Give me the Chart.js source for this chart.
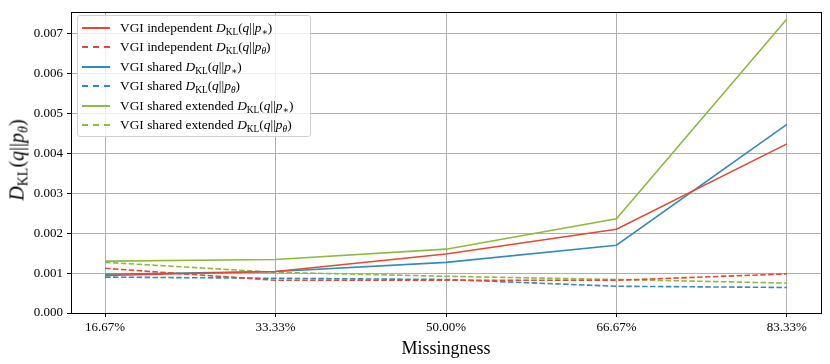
<!DOCTYPE html>
<html>
<head>
<meta charset="utf-8">
<script src="https://cdn.jsdelivr.net/npm/chart.js@4.4.1/dist/chart.umd.min.js"></script>
<style>
  html,body{margin:0;padding:0;background:#fff;}
  #wrap{position:relative;width:830px;height:364px;font-family:"Liberation Serif","DejaVu Serif",serif;}
  #c{position:absolute;left:0;top:0;}
  #legend{position:absolute;left:77px;top:15px;width:234px;height:122px;box-sizing:border-box;
    border:1px solid #d0d0d0;border-radius:3px;background:rgba(255,255,255,0.8);padding:2px 0 0 4px;}
  .row{height:19.5px;display:flex;align-items:center;font-size:13.4px;color:#000;white-space:nowrap;}
  .sw{width:28px;height:0;margin-right:10px;}
  #ytitle{position:absolute;left:17px;top:160px;transform:translate(-50%,-50%) rotate(-90deg);
    font-size:20px;white-space:nowrap;color:#000;}
  i{font-style:italic;}
  sub{font-size:70%;vertical-align:-0.3em;line-height:0;}
</style>
</head>
<body>
<div id="wrap">
  <canvas id="c" width="830" height="364"></canvas>
  <div id="legend"></div>
  <div id="ytitle"><i>D</i><sub>KL</sub>(<i>q</i>||<i>p</i><sub><i>θ</i></sub>)</div>
</div>
<script>
const categories = ["16.67%", "33.33%", "50.00%", "66.67%", "83.33%"];
const yTicks = [0, 0.001, 0.002, 0.003, 0.004, 0.005, 0.006, 0.007];

const indepStar  = [0.00094, 0.00104, 0.00148, 0.00210, 0.00424];
const indepTheta = [0.00112, 0.00082, 0.00082, 0.00082, 0.00098];
const sharedStar  = [0.00097, 0.00104, 0.00127, 0.00170, 0.00473];
const sharedTheta = [0.00090, 0.00087, 0.00084, 0.00067, 0.00064];
const extStar  = [0.00130, 0.00134, 0.00160, 0.00236, 0.00737];
const extTheta = [0.00127, 0.00102, 0.00092, 0.00084, 0.00075];

const seriesNames = ["VGI independent", "VGI independent", "VGI shared", "VGI shared", "VGI shared extended", "VGI shared extended"];
const seriesSub = ["∗", "θ", "∗", "θ", "∗", "θ"];
const seriesData = [indepStar, indepTheta, sharedStar, sharedTheta, extStar, extTheta];
const colors = ["#E24A33", "#E24A33", "#348ABD", "#348ABD", "#8EBA42", "#8EBA42"];
const dashed = [false, true, false, true, false, true];

const datasets = seriesData.map((vals, k) => ({
  label: seriesNames[k] + " D_KL(q||p_" + seriesSub[k] + ")",
  data: vals.map((v, i) => ({x: i, y: v})),
  borderColor: colors[k],
  backgroundColor: colors[k],
  borderWidth: 1.6,
  borderDash: dashed[k] ? [5.5, 2.4] : [],
  pointRadius: 0,
  fill: false,
  tension: 0
}));

const frame = {
  id: 'frame',
  afterDraw(chart) {
    const a = chart.chartArea, ctx = chart.ctx;
    ctx.save();
    ctx.strokeStyle = '#000';
    ctx.lineWidth = 1;
    ctx.strokeRect(Math.round(a.left) + 0.5, Math.round(a.top) + 0.5, Math.round(a.right - a.left), Math.round(a.bottom - a.top));
    ctx.restore();
  }
};

const font = {family: "'Liberation Serif','DejaVu Serif',serif", size: 13};

new Chart(document.getElementById('c'), {
  type: 'line',
  data: {datasets},
  plugins: [frame],
  options: {
    responsive: false,
    animation: false,
    layout: {padding: {top: 8, right: 9, left: 0, bottom: 0}},
    plugins: {legend: {display: false}, tooltip: {enabled: false}},
    scales: {
      x: {
        type: 'linear',
        min: -0.2, max: 4.2,
        afterFit: s => { s.height = 51; },
        afterBuildTicks: s => { s.ticks = categories.map((c, i) => ({value: i})); },
        ticks: {color: '#000', font, padding: 3, maxRotation: 0, autoSkip: false,
          callback: v => categories[v]},
        grid: {color: '#b0b0b0', lineWidth: 1, tickColor: '#000', tickLength: 4, drawTicks: true},
        border: {display: false},
        title: {display: true, text: 'Missingness', color: '#000',
          font: {family: font.family, size: 18}, padding: {top: 0}}
      },
      y: {
        type: 'linear',
        min: 0, max: 0.00755,
        afterFit: s => { s.width = 71; },
        afterBuildTicks: s => { s.ticks = yTicks.map(v => ({value: v})); },
        ticks: {color: '#000', font, padding: 4, callback: v => v.toFixed(3)},
        grid: {color: '#b0b0b0', lineWidth: 1, tickColor: '#000', tickLength: 4},
        border: {display: false}
      }
    }
  }
});

// HTML legend with proper subscripts
const leg = document.getElementById('legend');
seriesNames.forEach((n, k) => {
  const row = document.createElement('div');
  row.className = 'row';
  const sw = document.createElement('div');
  sw.className = 'sw';
  sw.style.borderTop = '2px ' + (dashed[k] ? 'dashed ' : 'solid ') + colors[k];
  row.appendChild(sw);
  const t = document.createElement('span');
  t.innerHTML = n + ' <i>D</i><sub>KL</sub>(<i>q</i>||<i>p</i><sub>' + (seriesSub[k] === 'θ' ? '<i>θ</i>' : '∗') + '</sub>)';
  row.appendChild(t);
  leg.appendChild(row);
});
</script>
</body>
</html>
